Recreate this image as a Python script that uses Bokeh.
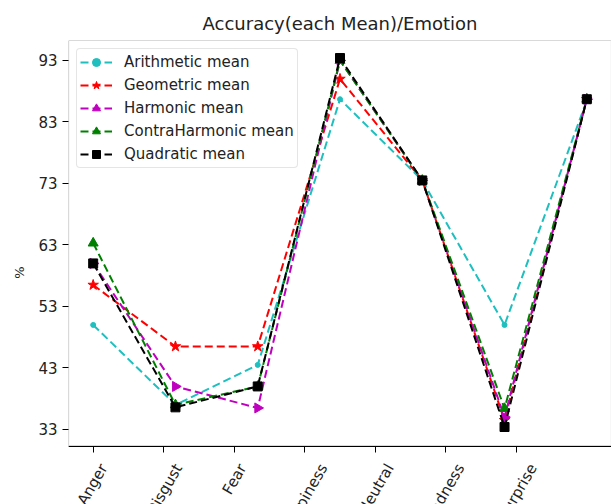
import math
from bokeh.plotting import figure
from bokeh.models import Range1d, FixedTicker, CustomJSTickFormatter, BoxAnnotation, Label
from bokeh.embed import file_html
from bokeh.resources import INLINE

# ---- data ----
categories = ["Anger", "Disgust", "Fear", "Happiness", "Neutral", "Sadness", "Surprise"]
y_ticks = [33, 43, 53, 63, 73, 83, 93]

arithmetic = [50.0, 37.0, 43.5, 86.7, 73.5, 50.0, 86.5]
geometric = [56.5, 46.5, 46.5, 90.0, 73.5, 34.5, 86.7]
harmonic = [60.0, 40.0, 36.5, 93.0, 73.5, 35.0, 86.7]
contraharmonic = [63.3, 37.0, 40.0, 93.0, 73.5, 36.4, 86.7]
quadratic = [60.0, 36.6, 40.0, 93.4, 73.5, 33.4, 86.7]

series_names = ["Arithmetic mean", "Geometric mean", "Harmonic mean",
                "ContraHarmonic mean", "Quadratic mean"]
series_values = [arithmetic, geometric, harmonic, contraharmonic, quadratic]

# ---- styles ----
colors = ["#1fbfbf", "#ff0000", "#bf00bf", "#008000", "#000000"]
markers = ["circle", "star", "triangle", "triangle", "square"]
marker_sizes = [5, 11, 10, 10, 9]
marker_angles = [0, 0, -math.pi / 2, 0, 0]

n = len(categories)
x_index = list(range(n))
tick_positions = [i * (n - 1) / n for i in range(n)]

X_LO, X_HI = -0.3, 6.3
AX_LO, AX_HI = 30.3, 96.25      # visible axes box (data units)
VIEW_LO = 20.8                  # frame continues down to the page bottom

FONT = "DejaVu Sans"
TXT = "#222222"

p = figure(width=611, height=504, output_backend="svg", toolbar_location=None,
           x_range=Range1d(X_LO, X_HI), y_range=Range1d(VIEW_LO, AX_HI),
           min_border_left=68, min_border_right=0, min_border_top=40,
           min_border_bottom=0, title="Accuracy(each Mean)/Emotion")

p.background_fill_color = "white"
p.border_fill_color = "white"
p.outline_line_color = None
p.xgrid.visible = False
p.ygrid.visible = False

p.title.align = "center"
p.title.text_font = FONT
p.title.text_font_size = "18px"
p.title.text_font_style = "normal"
p.title.text_color = TXT
p.title.standoff = 13

# axes box (matplotlib-style spines)
p.add_layout(BoxAnnotation(left=X_LO, right=X_HI, bottom=AX_LO, top=AX_HI,
                           fill_alpha=0, line_color="black", line_width=1.2,
                           level="overlay"))

# y axis
p.yaxis.ticker = FixedTicker(ticks=y_ticks)
p.yaxis.major_label_text_font = FONT
p.yaxis.major_label_text_font_size = "15px"
p.yaxis.major_label_text_color = TXT
p.yaxis.major_tick_out = 6
p.yaxis.major_tick_in = 0
p.yaxis.minor_tick_line_color = None
p.yaxis.axis_line_color = None
p.yaxis.major_tick_line_color = "black"
p.yaxis.axis_label = "%"
p.yaxis.axis_label_text_font = FONT
p.yaxis.axis_label_text_font_size = "13px"
p.yaxis.axis_label_text_font_style = "normal"
p.yaxis.axis_label_text_color = TXT
p.yaxis.axis_label_standoff = 8

# x axis fixed at the bottom of the axes box
p.xaxis.fixed_location = AX_LO
p.xaxis.ticker = FixedTicker(ticks=tick_positions)
p.xaxis.formatter = CustomJSTickFormatter(code="return ''")
p.xaxis.major_label_text_font_size = "1px"
p.xaxis.major_tick_out = 6
p.xaxis.major_tick_in = 0
p.xaxis.minor_tick_line_color = None
p.xaxis.axis_line_color = "black"
p.xaxis.major_tick_line_color = "black"

# rotated tick labels, centred on each tick like matplotlib (run off the page bottom)
for pos, cat in zip(tick_positions, categories):
    p.add_layout(Label(x=pos, y=AX_LO, x_offset=len(cat) * 2.1, y_offset=-19,
                       text=cat, angle=math.radians(60), angle_units="rad",
                       text_align="right", text_baseline="middle",
                       text_font=FONT, text_font_size="15px", text_color=TXT))

for name, vals, c, m, s, a in zip(series_names, series_values, colors,
                                   markers, marker_sizes, marker_angles):
    p.line(x_index, vals, line_color=c, line_width=2, line_dash="8 4",
           legend_label=name)
    p.scatter(x_index, vals, marker=m, size=s, angle=a, fill_color=c,
              line_color=c, legend_label=name)

p.legend.location = "top_left"
p.legend.margin = 8
p.legend.padding = 3
p.legend.spacing = 3
p.legend.label_height = 20
p.legend.glyph_height = 20
p.legend.glyph_width = 32
p.legend.label_standoff = 12
p.legend.label_text_font = FONT
p.legend.label_text_font_size = "15px"
p.legend.label_text_color = TXT
p.legend.border_line_color = "#cccccc"
p.legend.border_line_width = 1
p.legend.border_radius = 4
p.legend.background_fill_alpha = 0.8

open("out.html", "w").write(file_html(p, INLINE))
